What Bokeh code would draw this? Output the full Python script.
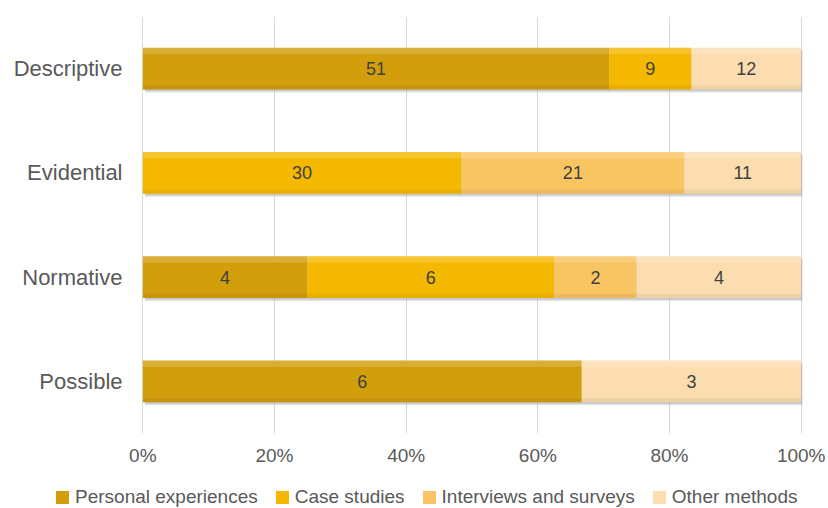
import numpy as np
from bokeh.plotting import figure
from bokeh.layouts import column
from bokeh.models import ColumnDataSource, Div, FactorRange, NumeralTickFormatter, FixedTicker, Range1d
from bokeh.embed import file_html
from bokeh.resources import INLINE
from bokeh.core.properties import value
from bokeh.transform import dodge

categories = ["Descriptive", "Evidential", "Normative", "Possible"]
series = ["Personal experiences", "Case studies", "Interviews and surveys", "Other methods"]
personal = [51, 0, 4, 6]
case_studies = [9, 30, 6, 0]
interviews = [0, 21, 2, 0]
other = [12, 11, 4, 3]
colors = ["#D29E0C", "#F5B800", "#F8C562", "#FCDDB0"]
x_ticks = [0, 0.2, 0.4, 0.6, 0.8, 1.0]

FONT = "Liberation Sans"

counts = np.array([personal, case_studies, interviews, other], dtype=float)
totals = counts.sum(axis=0)
shares = counts / totals
rights = np.cumsum(shares, axis=0)
lefts = rights - shares

p = figure(width=828, height=475, output_backend="svg", toolbar_location=None,
           y_range=FactorRange(factors=list(reversed(categories))),
           x_range=Range1d(-0.002, 1.002))
p.min_border_left = 141
p.min_border_right = 26
p.min_border_top = 16
p.min_border_bottom = 42
p.outline_line_color = None
p.background_fill_color = "white"
p.border_fill_color = "white"

p.xaxis.ticker = FixedTicker(ticks=x_ticks)
p.xaxis.formatter = NumeralTickFormatter(format="0%")
p.xaxis.axis_line_color = None
p.xaxis.major_tick_line_color = None
p.xaxis.minor_tick_line_color = None
p.xaxis.major_tick_out = 0
p.xaxis.minor_tick_out = 0
p.xaxis.major_label_text_font = FONT
p.xaxis.major_label_text_font_size = "19px"
p.xaxis.major_label_text_color = "#595959"
p.xaxis.major_label_standoff = 11

p.yaxis.axis_line_color = None
p.yaxis.major_tick_line_color = None
p.yaxis.minor_tick_line_color = None
p.yaxis.major_tick_out = 0
p.yaxis.minor_tick_out = 0
p.yaxis.major_label_text_font = FONT
p.yaxis.major_label_text_font_size = "22px"
p.yaxis.major_label_text_color = "#595959"
p.yaxis.major_label_standoff = 19

p.xgrid.grid_line_color = "#D9D9D9"
p.ygrid.grid_line_color = None

bar_h = 0.40

# soft drop shadow under each bar
shadow_src = ColumnDataSource(dict(y=categories, left=[0.003] * 4, right=[1.003] * 4))
p.hbar(y=dodge("y", -0.03, range=p.y_range), left="left", right="right", height=bar_h,
       source=shadow_src, fill_color="#999999", fill_alpha=0.25, line_color=None)
p.hbar(y=dodge("y", -0.018, range=p.y_range), left="left", right="right", height=bar_h,
       source=shadow_src, fill_color="#888888", fill_alpha=0.3, line_color=None)

for i, name in enumerate(series):
    src = ColumnDataSource(dict(y=categories, left=list(lefts[i]), right=list(rights[i])))
    p.hbar(y="y", left="left", right="right", height=bar_h, source=src,
           fill_color=colors[i], line_color=None)
    # light top highlight and darker bottom edge to mimic the gradient
    p.hbar(y=dodge("y", 0.17, range=p.y_range), left="left", right="right", height=0.06,
           source=src, fill_color="white", fill_alpha=0.18, line_color=None)
    p.hbar(y=dodge("y", -0.18, range=p.y_range), left="left", right="right", height=0.04,
           source=src, fill_color="black", fill_alpha=0.05, line_color=None)

lx, ly, lt = [], [], []
for i in range(len(series)):
    for j, c in enumerate(categories):
        if counts[i, j] > 0:
            lx.append(float((lefts[i, j] + rights[i, j]) / 2))
            ly.append(c)
            lt.append(str(int(counts[i, j])))
p.text(x="x", y="y", text="t", source=ColumnDataSource(dict(x=lx, y=ly, t=lt)),
       text_align="center", text_baseline="middle", text_font=value(FONT),
       text_font_size="18px", text_color="#404040")

# legend strip below the chart
parts = []
for name, col in zip(series, colors):
    parts.append(
        f'<span style="display:inline-flex;align-items:center;margin-right:18px;">'
        f'<span style="display:inline-block;width:13px;height:13px;background:{col};'
        f'margin-right:6px;"></span>{name}</span>'
    )
legend_html = (
    f'<div style="font-family:\'{FONT}\';font-size:19px;color:#595959;'
    f'line-height:22px;white-space:nowrap;padding-left:56px;padding-top:11px;">'
    + "".join(parts) + "</div>"
)
legend_div = Div(text=legend_html, width=828, height=33, margin=0)

layout = column(p, legend_div, spacing=0)
open("out.html", "w").write(file_html(layout, INLINE))
